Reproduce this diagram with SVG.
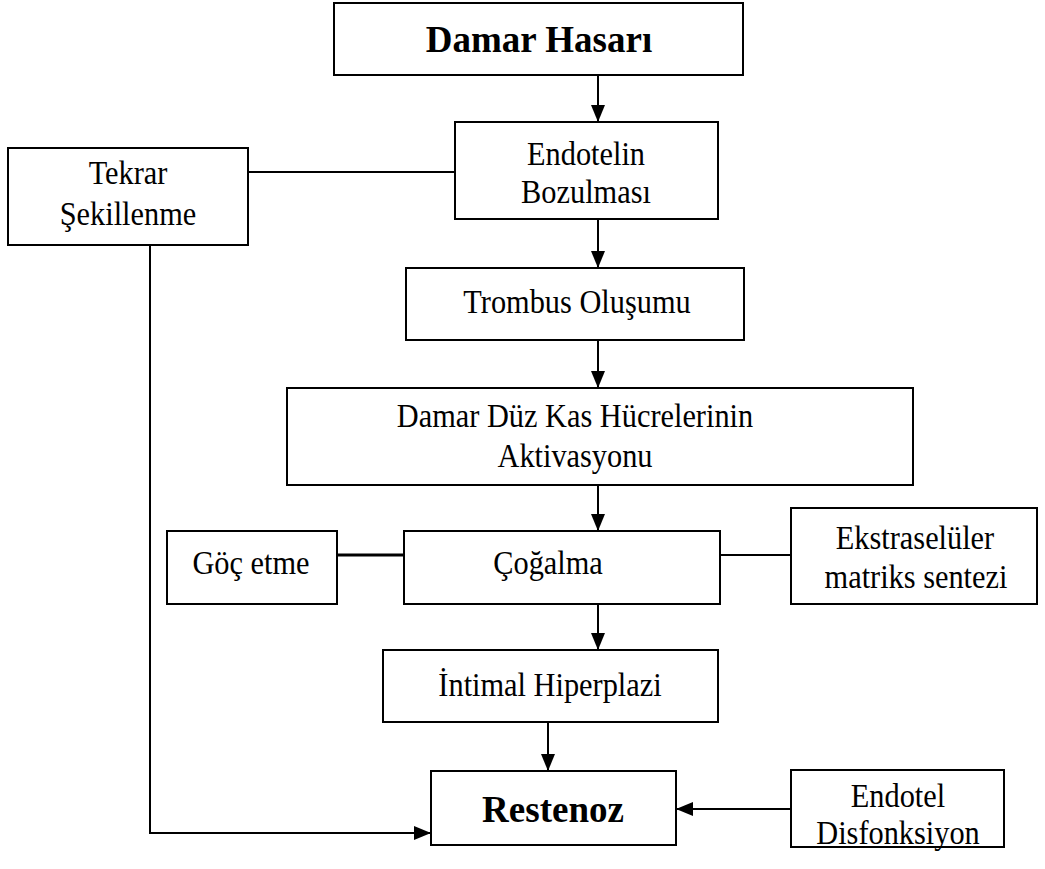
<svg xmlns="http://www.w3.org/2000/svg" width="1045" height="869" viewBox="0 0 1045 869">
<style>
.box{fill:#fff;stroke:#000;stroke-width:2}
.t{font-family:"Liberation Serif","Times New Roman",serif;font-size:33px;text-anchor:middle;fill:#000;transform-box:fill-box;transform-origin:center;transform:scaleX(0.92)}
.b{font-family:"Liberation Serif","Times New Roman",serif;font-size:37px;font-weight:bold;text-anchor:middle;fill:#000}
.c{fill:none;stroke:#000;stroke-width:2}
</style>
<defs>
<marker id="a" viewBox="0 0 17 14" refX="17" refY="7" markerWidth="17" markerHeight="14" orient="auto" markerUnits="userSpaceOnUse">
<path d="M0,0 L17,7 L0,14 Z" fill="#000"/>
</marker>
</defs>
<g id="connectors">
<line class="c" x1="598" y1="75" x2="598" y2="122" marker-end="url(#a)"/>
<line class="c" x1="248" y1="172" x2="455" y2="172"/>
<line class="c" x1="598" y1="219" x2="598" y2="268" marker-end="url(#a)"/>
<line class="c" x1="598" y1="340" x2="598" y2="388" marker-end="url(#a)"/>
<line class="c" x1="598" y1="485" x2="598" y2="531" marker-end="url(#a)"/>
<line x1="337" y1="555" x2="404" y2="555" stroke="#000" stroke-width="3"/>
<line class="c" x1="720" y1="555" x2="791" y2="555"/>
<line class="c" x1="598" y1="604" x2="598" y2="650" marker-end="url(#a)"/>
<line class="c" x1="548" y1="722" x2="548" y2="771" marker-end="url(#a)"/>
<polyline class="c" points="150,245 150,833 431,833" marker-end="url(#a)"/>
<line class="c" x1="791" y1="809" x2="676" y2="809" marker-end="url(#a)"/>
</g>
<g id="damar-hasari">
<rect class="box" x="334" y="3" width="409" height="72"/>
<text class="b" x="539" y="52">Damar Hasarı</text>
</g>
<g id="endotelin-bozulmasi">
<rect class="box" x="455" y="122" width="263" height="97"/>
<text class="t" x="586" y="165">Endotelin</text>
<text class="t" x="586" y="203">Bozulması</text>
</g>
<g id="tekrar-sekillenme">
<rect class="box" x="8" y="148" width="240" height="97"/>
<text class="t" x="128" y="184">Tekrar</text>
<text class="t" x="128" y="225">Şekillenme</text>
</g>
<g id="trombus">
<rect class="box" x="406" y="268" width="338" height="72"/>
<text class="t" x="577" y="313">Trombus Oluşumu</text>
</g>
<g id="aktivasyon">
<rect class="box" x="287" y="388" width="626" height="97"/>
<text class="t" x="575" y="427">Damar Düz Kas Hücrelerinin</text>
<text class="t" x="575" y="467">Aktivasyonu</text>
</g>
<g id="goc-etme">
<rect class="box" x="167" y="531" width="170" height="73"/>
<text class="t" x="251" y="574">Göç etme</text>
</g>
<g id="cogalma">
<rect class="box" x="404" y="531" width="316" height="73"/>
<text class="t" x="548" y="574">Çoğalma</text>
</g>
<g id="ekstraseluler">
<rect class="box" x="791" y="508" width="246" height="96"/>
<text class="t" x="915" y="549">Ekstraselüler</text>
<text class="t" x="916" y="588">matriks sentezi</text>
</g>
<g id="intimal">
<rect class="box" x="383" y="650" width="335" height="72"/>
<text class="t" x="550" y="696">İntimal Hiperplazi</text>
</g>
<g id="restenoz">
<rect class="box" x="431" y="771" width="245" height="74"/>
<text class="b" x="553" y="822">Restenoz</text>
</g>
<g id="endotel-disfonksiyon">
<rect class="box" x="791" y="770" width="213" height="77"/>
<text class="t" x="898" y="807">Endotel</text>
<text class="t" x="898" y="844">Disfonksiyon</text>
</g>
</svg>
